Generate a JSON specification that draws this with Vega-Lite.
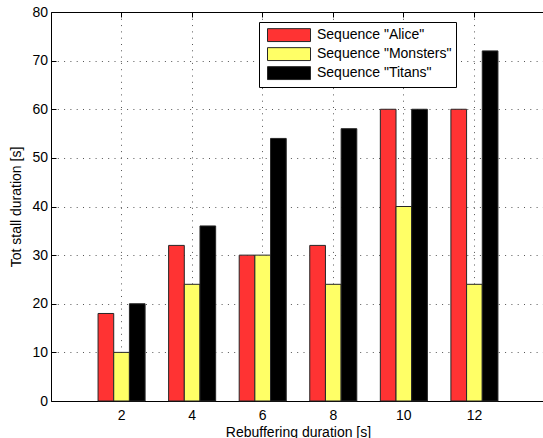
{
  "$schema": "https://vega.github.io/schema/vega-lite/v6.json",
  "width": 492,
  "height": 389,
  "autosize": {"type": "none"},
  "padding": {"left": 51, "top": 12, "right": 0, "bottom": 37},
  "background": "white",
  "config": {
    "view": {"stroke": null},
    "font": "Liberation Sans",
    "axis": {
      "domainColor": "black",
      "domainWidth": 1,
      "tickColor": "black",
      "tickWidth": 1,
      "labelFont": "Liberation Sans",
      "labelFontSize": 14,
      "labelColor": "black",
      "titleFont": "Liberation Sans",
      "titleFontSize": 14,
      "titleFontWeight": "normal",
      "titleColor": "black",
      "gridColor": "#555555",
      "gridDash": [1, 5.3],
      "gridWidth": 1,
      "gridOpacity": 1
    }
  },
  "data": {
    "values": [
      {"x": 2, "series": "Sequence \"Alice\"", "value": 18},
      {"x": 2, "series": "Sequence \"Monsters\"", "value": 10},
      {"x": 2, "series": "Sequence \"Titans\"", "value": 20},
      {"x": 4, "series": "Sequence \"Alice\"", "value": 32},
      {"x": 4, "series": "Sequence \"Monsters\"", "value": 24},
      {"x": 4, "series": "Sequence \"Titans\"", "value": 36},
      {"x": 6, "series": "Sequence \"Alice\"", "value": 30},
      {"x": 6, "series": "Sequence \"Monsters\"", "value": 30},
      {"x": 6, "series": "Sequence \"Titans\"", "value": 54},
      {"x": 8, "series": "Sequence \"Alice\"", "value": 32},
      {"x": 8, "series": "Sequence \"Monsters\"", "value": 24},
      {"x": 8, "series": "Sequence \"Titans\"", "value": 56},
      {"x": 10, "series": "Sequence \"Alice\"", "value": 60},
      {"x": 10, "series": "Sequence \"Monsters\"", "value": 40},
      {"x": 10, "series": "Sequence \"Titans\"", "value": 60},
      {"x": 12, "series": "Sequence \"Alice\"", "value": 60},
      {"x": 12, "series": "Sequence \"Monsters\"", "value": 24},
      {"x": 12, "series": "Sequence \"Titans\"", "value": 72}
    ]
  },
  "layer": [
    {
      "mark": {"type": "bar", "stroke": "#262626", "strokeWidth": 1},
      "encoding": {
        "x": {
          "field": "x",
          "type": "ordinal",
          "scale": {"range": [0, 494], "paddingInner": 0, "paddingOuter": 0.5},
          "axis": {
            "orient": "bottom",
            "title": "Rebuffering duration [s]",
            "labelAngle": 0,
            "bandPosition": 0.5,
            "grid": true,
            "tickSize": -5,
            "labelPadding": 12,
            "titlePadding": 3
          }
        },
        "xOffset": {
          "field": "series",
          "type": "nominal",
          "sort": ["Sequence \"Alice\"", "Sequence \"Monsters\"", "Sequence \"Titans\""],
          "scale": {"paddingOuter": 0.75, "paddingInner": 0}
        },
        "y": {
          "field": "value",
          "type": "quantitative",
          "scale": {"domain": [0, 80], "nice": false},
          "axis": {
            "title": "Tot stall duration [s]",
            "values": [0, 10, 20, 30, 40, 50, 60, 70, 80],
            "grid": true,
            "tickSize": -5,
            "labelPadding": 8.5,
            "titlePadding": 8
          }
        },
        "color": {
          "field": "series",
          "type": "nominal",
          "scale": {
            "domain": ["Sequence \"Alice\"", "Sequence \"Monsters\"", "Sequence \"Titans\""],
            "range": ["#FF3333", "#FFFF66", "#000000"]
          },
          "legend": {
            "title": null,
            "orient": "none",
            "legendX": 208,
            "legendY": 10,
            "direction": "vertical",
            "strokeColor": "black",
            "fillColor": "white",
            "padding": 4,
            "symbolType": "M-1,-0.3H1V0.3H-1Z",
            "symbolSize": 1849,
            "symbolStrokeColor": "#262626",
            "symbolStrokeWidth": 1,
            "symbolOffset": 4,
            "clipHeight": 18.2,
            "rowPadding": 0,
            "labelFontSize": 14,
            "labelFont": "Liberation Sans",
            "labelColor": "black",
            "labelOffset": 6
          }
        }
      }
    },
    {
      "mark": {"type": "point", "opacity": 0},
      "encoding": {
        "x": {
          "field": "x",
          "type": "ordinal",
          "axis": {
            "orient": "top",
            "title": null,
            "labels": false,
            "grid": false,
            "bandPosition": 0.5,
            "tickSize": -5
          }
        },
        "y": {"field": "value", "type": "quantitative"}
      }
    }
  ],
  "resolve": {"axis": {"x": "independent"}}
}
